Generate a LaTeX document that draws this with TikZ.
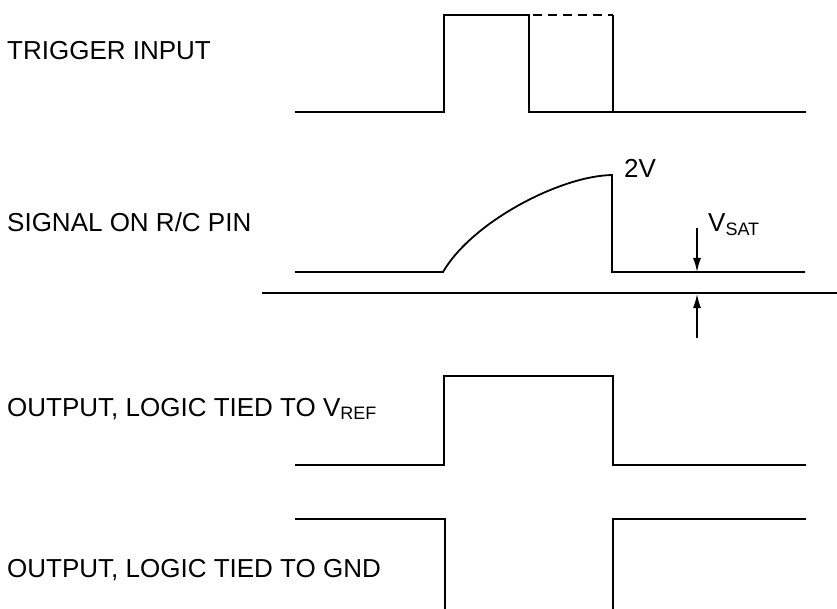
\documentclass[tikz,border=0pt]{standalone}
\usepackage{fontspec}
\setmainfont{Liberation Sans}
\usetikzlibrary{arrows.meta}
\newcommand{\lblfont}{\fontsize{26}{30}\selectfont}
\newcommand{\subfont}{\fontsize{18}{20}\selectfont}
\newcommand{\mysub}[1]{\raisebox{-3.5pt}{\subfont #1}}
\tikzset{
  wave/.style={line width=1.8pt, line join=miter},
  lbl/.style={anchor=base west, inner sep=0pt, font=\lblfont},
  meas/.style={line width=1.5pt, -{Latex[length=14pt,width=8pt]}},
}
\begin{document}
\begin{tikzpicture}[x=1pt,y=-1pt]
\useasboundingbox (0,0) rectangle (837,609);
% labels
\node[lbl] (l1) at (7,60) {TRIGGER INPUT};
\node[lbl] (l2) at (7,232) {SIGNAL ON R/C PIN};
\node[lbl] (l3) at (7,416) {OUTPUT, LOGIC TIED TO V\mysub{REF}};
\node[lbl] (l4) at (7,577) {OUTPUT, LOGIC TIED TO GND};
% trigger input
\coordinate (t0) at (295,112);
\coordinate (t1) at (444,112);
\coordinate (t2) at (444,15);
\coordinate (t3) at (529,15);
\coordinate (t4) at (529,112);
\coordinate (t5) at (613,112);
\coordinate (t6) at (613,15);
\coordinate (t7) at (806,112);
\draw[wave] (t0) -- (t1) -- (t2) -- (t3) -- (t4) -- (t7);
\draw[wave] (t6) -- (t5);
\draw[wave, dash pattern=on 9pt off 6pt, dash phase=-4pt] (t3) -- (t6);
% signal on R/C pin
\coordinate (s0) at (295,272);
\coordinate (s1) at (443,272);
\coordinate (s2) at (612,175);
\coordinate (s3) at (612,272);
\coordinate (s4) at (805,272);
\draw[wave] (s0) -- (s1) .. controls (472,222) and (560,176) .. (s2) -- (s3) -- (s4);
\node[lbl] (v2) at (624,178) {2V};
% reference line and V_SAT
\coordinate (r0) at (262,293);
\coordinate (r1) at (837,293);
\draw[line width=1.5pt] (r0) -- (r1);
\coordinate (a0) at (697,228);
\coordinate (a1) at (697,272);
\coordinate (b0) at (697,338);
\coordinate (b1) at (697,294);
\draw[meas] (a0) -- (a1);
\draw[meas] (b0) -- (b1);
\node[lbl] (vs) at (708,232) {V\mysub{SAT}};
% output tied to VREF
\coordinate (o0) at (295,465);
\coordinate (o1) at (444,465);
\coordinate (o2) at (444,376);
\coordinate (o3) at (613,376);
\coordinate (o4) at (613,465);
\coordinate (o5) at (806,465);
\draw[wave] (o0) -- (o1) -- (o2) -- (o3) -- (o4) -- (o5);
% output tied to GND
\coordinate (g0) at (295,519);
\coordinate (g1) at (445,519);
\coordinate (g2) at (445,612);
\coordinate (g3) at (613,612);
\coordinate (g4) at (613,519);
\coordinate (g5) at (806,519);
\draw[wave] (g0) -- (g1) -- (g2);
\draw[wave] (g3) -- (g4) -- (g5);
\end{tikzpicture}
\end{document}
